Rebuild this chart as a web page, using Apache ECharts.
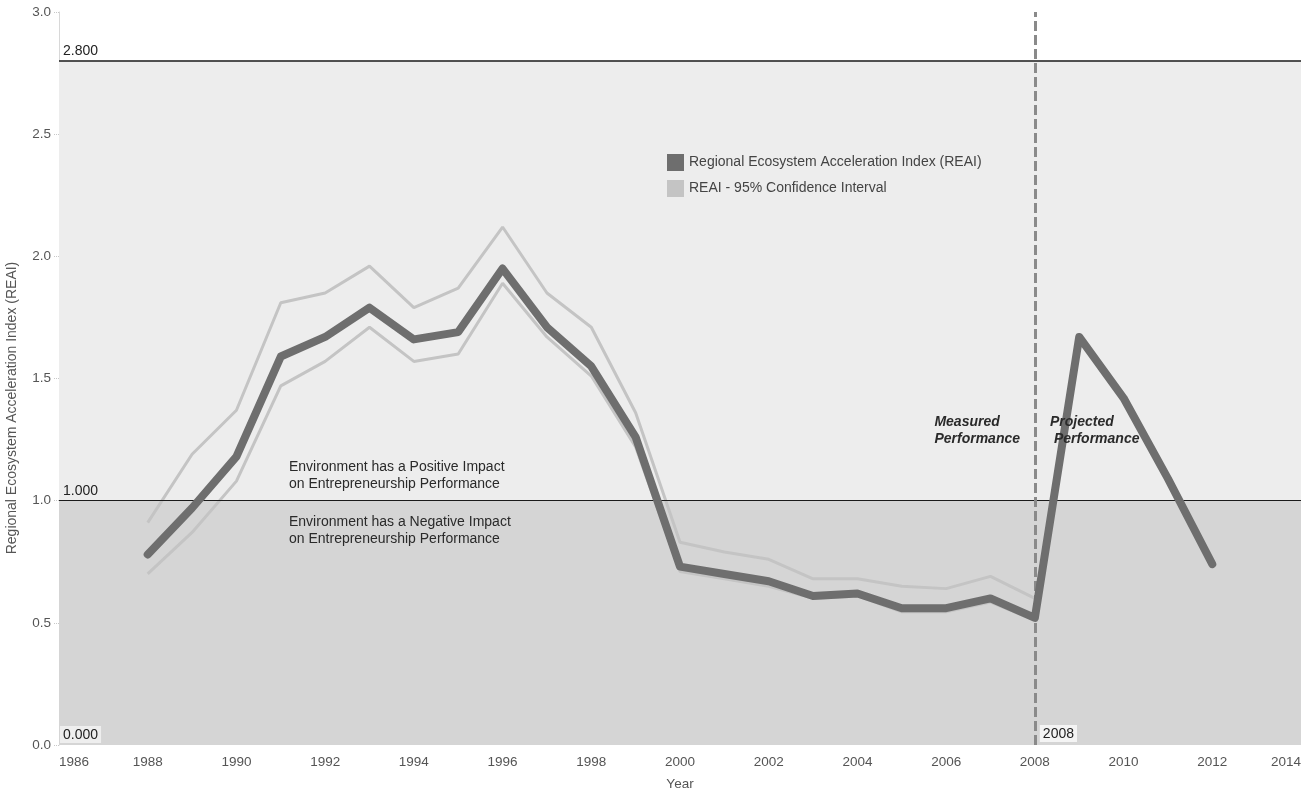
<!DOCTYPE html>
<html>
<head>
<meta charset="utf-8">
<script src="https://cdn.jsdelivr.net/npm/echarts@6/dist/echarts.min.js"></script>
<style>
  html, body { margin: 0; padding: 0; background: #fff; }
  #chart { width: 1311px; height: 794px; }
</style>
</head>
<body>
<div id="chart"></div>
<script>
// REAI by year: measured 1988-2008, projected 2009-2012
const years = [1988, 1989, 1990, 1991, 1992, 1993, 1994, 1995, 1996, 1997, 1998, 1999, 2000,
               2001, 2002, 2003, 2004, 2005, 2006, 2007, 2008, 2009, 2010, 2011, 2012];
const reai = [0.78, 0.97, 1.18, 1.59, 1.67, 1.79, 1.66, 1.69, 1.95, 1.71, 1.55, 1.26, 0.73,
              0.70, 0.67, 0.61, 0.62, 0.56, 0.56, 0.60, 0.52, 1.67, 1.42, 1.09, 0.74];

// 95% confidence interval bounds (measured years only)
const ciYears = [1988, 1989, 1990, 1991, 1992, 1993, 1994, 1995, 1996, 1997, 1998, 1999, 2000,
                 2001, 2002, 2003, 2004, 2005, 2006, 2007, 2008];
const ciUpper = [0.91, 1.19, 1.37, 1.81, 1.85, 1.96, 1.79, 1.87, 2.12, 1.85, 1.71, 1.36, 0.83,
                 0.79, 0.76, 0.68, 0.68, 0.65, 0.64, 0.69, 0.60];
const ciLower = [0.70, 0.87, 1.08, 1.47, 1.57, 1.71, 1.57, 1.60, 1.89, 1.67, 1.51, 1.22, 0.71,
                 0.68, 0.65, 0.60, 0.61, 0.545, 0.545, 0.585, 0.51];

// Reference levels and split year
const refTop = 2.8;
const refNeutral = 1.0;
const refZero = 0.0;
const splitYear = 2008;

const pairs = (xs, ys) => xs.map((x, i) => [x, ys[i]]);

const FONT = 'Liberation Sans, Arial, sans-serif';
const NAME_MAIN = 'Regional Ecosystem Acceleration Index (REAI)';
const NAME_CI = 'REAI - 95% Confidence Interval';

const chart = echarts.init(document.getElementById('chart'), null, { renderer: 'canvas' });

const refLabel = {
  show: true,
  position: 'insideStartTop',
  color: '#222',
  fontFamily: FONT,
  fontSize: 14,
  distance: [4, 3]
};

chart.setOption({
  backgroundColor: '#ffffff',
  animation: false,
  textStyle: { fontFamily: FONT },
  grid: { left: 59, right: 10, top: 12, bottom: 49, containLabel: false, outerBoundsMode: 'none' },
  legend: {
    orient: 'vertical',
    left: 662,
    top: 149,
    itemWidth: 17,
    itemHeight: 17,
    itemGap: 9,
    icon: 'rect',
    textStyle: { fontFamily: FONT, fontSize: 14, color: '#444' },
    data: [
      { name: NAME_MAIN, itemStyle: { color: '#6e6e6e' } },
      { name: NAME_CI, itemStyle: { color: '#c4c4c4' } }
    ]
  },
  xAxis: {
    type: 'value',
    min: 1986,
    max: 2014,
    interval: 2,
    name: 'Year',
    nameLocation: 'middle',
    nameGap: 32,
    nameTextStyle: { fontFamily: FONT, fontSize: 13.5, color: '#555' },
    axisLine: { show: false },
    axisTick: { show: false },
    axisLabel: { color: '#555', fontSize: 13.5, fontFamily: FONT, margin: 10,
                 alignMinLabel: 'left', alignMaxLabel: 'right', formatter: v => String(v) },
    splitLine: { show: true, lineStyle: { color: 'rgba(255,255,255,0.75)', width: 1 } }
  },
  yAxis: {
    type: 'value',
    min: 0,
    max: 3,
    interval: 0.5,
    axisLine: { show: true, lineStyle: { color: '#d8d8d8', width: 1 } },
    axisTick: { show: true, length: 5, lineStyle: { color: '#c8c8c8', type: 'dotted' } },
    axisLabel: { color: '#555', fontSize: 13.5, fontFamily: FONT, margin: 8, formatter: v => v.toFixed(1) },
    splitLine: { show: true, lineStyle: { color: 'rgba(255,255,255,0.8)', width: 1 } }
  },
  series: [
    {
      // background bands and reference lines
      type: 'line',
      data: [],
      silent: true,
      z: 1,
      markArea: {
        silent: true,
        data: [
          [{ yAxis: refZero, itemStyle: { color: '#d5d5d5' } }, { yAxis: refNeutral }],
          [{ yAxis: refNeutral, itemStyle: { color: '#ededed' } }, { yAxis: refTop }]
        ]
      },
      markLine: {
        silent: true,
        symbol: ['none', 'none'],
        data: [
          { yAxis: refTop, lineStyle: { color: '#1a1a1a', width: 1.5, type: 'solid' },
            label: Object.assign({}, refLabel, { formatter: refTop.toFixed(3) }) },
          { yAxis: refNeutral, lineStyle: { color: '#1a1a1a', width: 1.2, type: 'solid' },
            label: Object.assign({}, refLabel, { formatter: refNeutral.toFixed(3) }) },
          { yAxis: refZero, lineStyle: { color: 'rgba(0,0,0,0)', width: 0 },
            label: Object.assign({}, refLabel, { formatter: refZero.toFixed(3),
              backgroundColor: '#eeeeee', padding: [2, 3, 1, 3], distance: [1, 2] }) }
        ]
      }
    },
    {
      name: NAME_CI,
      type: 'line',
      data: pairs(ciYears, ciUpper),
      symbol: 'none',
      z: 3,
      lineStyle: { color: '#c4c4c4', width: 3 },
      itemStyle: { color: '#c4c4c4' }
    },
    {
      name: NAME_CI,
      type: 'line',
      data: pairs(ciYears, ciLower),
      symbol: 'none',
      z: 3,
      lineStyle: { color: '#c4c4c4', width: 3 },
      itemStyle: { color: '#c4c4c4' }
    },
    {
      name: NAME_MAIN,
      type: 'line',
      data: pairs(years, reai),
      symbol: 'none',
      z: 5,
      lineStyle: { color: '#6e6e6e', width: 8, join: 'round', cap: 'round' },
      itemStyle: { color: '#6e6e6e' }
    },
    {
      // measured / projected divider
      type: 'line',
      data: [],
      silent: true,
      z: 6,
      markLine: {
        silent: true,
        symbol: ['none', 'none'],
        label: { show: false },
        lineStyle: { color: '#8a8a8a', width: 3, type: [10, 4] },
        data: [{ xAxis: splitYear }]
      },
      markPoint: {
        silent: true,
        symbol: 'rect',
        symbolSize: 0,
        data: [{
          coord: [splitYear, refZero],
          label: {
            show: true,
            formatter: String(splitYear),
            position: 'insideBottomLeft',
            offset: [0, 2],
            color: '#222',
            fontSize: 14,
            fontFamily: FONT,
            backgroundColor: '#f4f4f4',
            padding: [2, 3, 1, 3]
          }
        }]
      }
    }
  ],
  graphic: [
    {
      // y-axis title
      type: 'text', x: 12, y: 408, rotation: Math.PI / 2, z: 10,
      style: { text: 'Regional Ecosystem Acceleration Index (REAI)', align: 'center',
               verticalAlign: 'middle', font: '14px ' + FONT, fill: '#555' }
    },
    {
      type: 'text', left: 289, top: 459, z: 10,
      style: { text: 'Environment has a Positive Impact\non Entrepreneurship Performance',
               font: '14px ' + FONT, fill: '#2a2a2a', lineHeight: 17 }
    },
    {
      type: 'text', left: 289, top: 514, z: 10,
      style: { text: 'Environment has a Negative Impact\non Entrepreneurship Performance',
               font: '14px ' + FONT, fill: '#2a2a2a', lineHeight: 17 }
    },
    {
      type: 'text', right: 1311 - 1020, top: 414, z: 10,
      style: { text: 'Measured\nPerformance', align: 'right',
               font: 'italic bold 14px ' + FONT, fill: '#2a2a2a', lineHeight: 17 }
    },
    {
      type: 'text', left: 1050, top: 414, z: 10,
      style: { text: 'Projected\n Performance',
               font: 'italic bold 14px ' + FONT, fill: '#2a2a2a', lineHeight: 17 }
    }
  ]
});
</script>
</body>
</html>
